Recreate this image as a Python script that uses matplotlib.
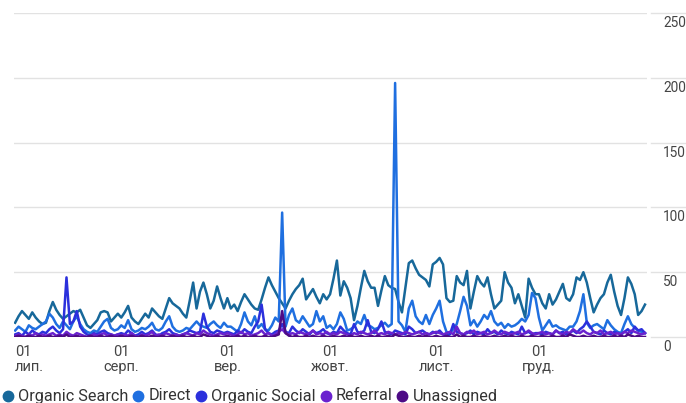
import numpy as np
import pandas as pd
import matplotlib
matplotlib.use('Agg')
import matplotlib.pyplot as plt
from matplotlib.transforms import offset_copy

plt.rcParams['font.family'] = ['Roboto', 'DejaVu Sans']

# daily sessions, 1 Jul .. 1 Jan
dates = pd.date_range('2023-07-01', periods=185, freq='D')

organic_search = [
    11, 16, 20, 17, 14, 19, 15, 12, 10, 11, 20, 27, 21, 17, 14, 16, 18, 20, 19, 21, 15, 9, 7, 10, 13, 19, 20, 19, 12, 15, 18,
    15, 19, 24, 15, 12, 10, 14, 18, 15, 22, 19, 16, 14, 22, 30, 26, 24, 22, 18, 15, 28, 42, 22, 35, 42, 33, 22, 28, 39, 30, 22,
    30, 22, 25, 20, 27, 33, 29, 25, 22, 21, 29, 38, 46, 40, 35, 30, 26, 22, 28, 33, 37, 40, 45, 29, 33, 37, 31, 26, 33, 29,
    33, 45, 59, 32, 43, 38, 30, 13, 24, 38, 51, 43, 38, 38, 24, 36, 47, 40, 38, 37, 27, 19, 38, 57, 59, 53, 48, 46, 44, 39, 56,
    58, 61, 56, 30, 27, 28, 47, 42, 40, 51, 22, 35, 47, 42, 39, 46, 33, 22, 25, 28, 50, 42, 38, 26, 33, 24, 15, 45, 38, 33,
    33, 26, 22, 33, 25, 29, 35, 41, 30, 28, 33, 46, 44, 50, 42, 30, 19, 25, 30, 33, 42, 48, 35, 24, 17, 30, 46, 41, 33, 17, 20, 25,
]
direct = [
    5, 8, 6, 4, 9, 7, 6, 8, 10, 12, 18, 15, 10, 7, 12, 9, 6, 12, 16, 10, 6, 4, 3, 5, 4, 8, 12, 14, 7, 5, 6,
    9, 7, 13, 6, 4, 5, 7, 6, 8, 11, 6, 5, 7, 12, 16, 8, 5, 4, 5, 7, 6, 9, 12, 9, 8, 7, 10, 12, 9, 7, 11,
    8, 8, 6, 4, 10, 19, 12, 9, 16, 7, 10, 6, 5, 9, 15, 12, 96, 8, 17, 22, 13, 11, 16, 12, 8, 10, 20, 12, 16, 7,
    9, 6, 10, 19, 14, 5, 6, 8, 12, 10, 17, 9, 8, 6, 7, 9, 11, 8, 10, 196, 12, 9, 4, 22, 28, 16, 12, 10, 17, 10, 17,
    22, 28, 12, 4, 3, 6, 10, 20, 31, 24, 9, 13, 8, 12, 17, 14, 20, 12, 9, 11, 7, 10, 8, 9, 11, 14, 12, 17, 34, 30,
    15, 5, 9, 13, 8, 9, 7, 6, 5, 8, 8, 12, 20, 33, 11, 7, 9, 10, 8, 6, 13, 9, 6, 4, 3, 10, 16, 10, 7, 5, 4, 3,
]
organic_social = [
    2, 3, 1, 4, 2, 5, 3, 2, 4, 3, 6, 8, 5, 3, 6, 46, 10, 12, 20, 8, 4, 2, 1, 3, 2, 4, 5, 3, 2, 1, 2,
    3, 2, 5, 3, 1, 2, 4, 2, 3, 5, 2, 1, 3, 4, 6, 3, 2, 1, 2, 3, 5, 4, 3, 4, 18, 8, 4, 3, 5, 4, 3,
    4, 3, 2, 5, 3, 6, 4, 3, 8, 12, 25, 6, 3, 2, 4, 5, 10, 4, 3, 8, 5, 3, 6, 4, 2, 5, 3, 4, 6, 3,
    2, 4, 3, 8, 5, 3, 2, 10, 4, 3, 5, 13, 4, 3, 6, 12, 4, 3, 2, 5, 4, 3, 2, 8, 6, 3, 4, 5, 3, 2, 4,
    3, 5, 2, 1, 2, 10, 4, 3, 2, 3, 5, 2, 4, 3, 2, 6, 3, 4, 2, 5, 3, 2, 4, 3, 2, 8, 3, 4, 2, 3,
    3, 2, 4, 3, 2, 5, 3, 4, 2, 3, 5, 3, 6, 8, 12, 8, 4, 3, 2, 5, 3, 2, 4, 3, 2, 4, 6, 3, 8, 5, 6, 3,
]
referral = [
    1, 2, 1, 0, 2, 1, 3, 1, 2, 1, 2, 3, 1, 2, 1, 4, 2, 1, 3, 2, 1, 0, 1, 2, 1, 2, 3, 1, 2, 1, 2,
    1, 2, 1, 3, 1, 0, 2, 1, 2, 4, 1, 2, 1, 3, 2, 1, 2, 1, 2, 3, 2, 1, 3, 2, 5, 3, 2, 1, 2, 3, 2,
    3, 2, 1, 2, 4, 2, 3, 1, 2, 3, 5, 2, 3, 1, 2, 4, 6, 3, 2, 3, 2, 4, 3, 2, 3, 5, 2, 3, 2, 4,
    2, 3, 2, 4, 3, 2, 1, 3, 2, 4, 3, 2, 3, 5, 2, 3, 2, 4, 3, 2, 3, 2, 4, 3, 2, 3, 4, 2, 3, 2, 3,
    4, 3, 2, 3, 4, 2, 8, 3, 2, 4, 3, 5, 2, 3, 4, 2, 3, 5, 3, 2, 4, 3, 2, 3, 4, 2, 3, 5, 3, 2,
    3, 4, 2, 3, 2, 5, 3, 2, 4, 3, 6, 4, 3, 5, 3, 2, 4, 3, 5, 2, 3, 4, 2, 3, 2, 4, 3, 5, 4, 3, 2, 3,
]
unassigned = [
    0, 1, 0, 0, 1, 0, 0, 1, 0, 0, 1, 0, 0, 1, 0, 2, 0, 0, 1, 0, 0, 0, 1, 0, 0, 1, 0, 0, 1, 0, 0,
    1, 0, 0, 1, 0, 0, 1, 0, 0, 1, 0, 0, 1, 0, 0, 1, 0, 0, 1, 0, 0, 1, 0, 0, 2, 1, 0, 0, 1, 0, 0,
    1, 0, 0, 1, 0, 1, 0, 0, 1, 0, 0, 1, 0, 0, 1, 2, 20, 3, 1, 0, 1, 0, 0, 1, 0, 1, 0, 0, 1, 0,
    0, 1, 0, 0, 1, 0, 1, 0, 0, 1, 0, 0, 1, 0, 1, 0, 0, 1, 0, 2, 1, 0, 0, 1, 0, 0, 1, 0, 1, 0, 0,
    1, 0, 0, 1, 0, 0, 2, 0, 1, 0, 0, 1, 0, 0, 1, 0, 0, 1, 0, 0, 1, 0, 1, 0, 0, 1, 0, 0, 1, 0,
    0, 1, 0, 0, 1, 0, 0, 1, 0, 2, 1, 0, 0, 1, 0, 0, 1, 0, 0, 1, 0, 0, 1, 0, 1, 0, 2, 1, 0, 1, 0, 0,
]

series = [organic_search, direct, organic_social, referral, unassigned]
names = ['Organic Search', 'Direct', 'Organic Social', 'Referral', 'Unassigned']
colors = ['#17689a', '#1f6fe0', '#2b30dc', '#6a22cf', '#4d0b85']
month_labels = ['лип.', 'серп.', 'вер.', 'жовт.', 'лист.', 'груд.']
y_ticks = [0, 50, 100, 150, 200, 250]

W, H = 686, 403
fig = plt.figure(figsize=(W / 100, H / 100), dpi=100)
ax = fig.add_axes([14 / W, 1 - 337 / H, 633 / W, 324 / H])

for vals, col in zip(series, colors):
    ax.plot(dates, vals, color=col, lw=1.8, solid_joinstyle='round')

ax.set_ylim(0, 250)
ax.set_xlim(dates[0] - pd.Timedelta(hours=8), dates[-1] + pd.Timedelta(hours=14))
for s in ax.spines.values():
    s.set_visible(False)
ax.set_yticks(y_ticks)
ax.set_yticklabels([])
ax.tick_params(length=0)
ax.grid(axis='y', color='#e2e2e2', lw=1)
ax.set_axisbelow(True)

# gridline stubs and labels in the right-hand value column
ytrans = ax.get_yaxis_transform()
lab_trans = offset_copy(ytrans, fig=fig, x=16, y=-3, units='dots')
for v in y_ticks:
    ax.plot([1.007, 1.1], [v, v], transform=ytrans, color='#e2e2e2', lw=1, clip_on=False)
    ax.text(1.0, v, str(v), transform=lab_trans, ha='left', va='top',
            fontsize=9.8, color='#444444', clip_on=False)

month_starts = pd.date_range('2023-07-01', '2023-12-01', freq='MS')
ax.set_xticks(month_starts)
ax.set_xticklabels(['01\n' + m for m in month_labels], fontsize=10.5, color='#444444',
                   linespacing=1.05)
ax.tick_params(axis='x', pad=6)
first = ax.get_xticklabels()[0]
first.set_ha('left')
first.set_multialignment('left')

# legend row
fig.canvas.draw()
renderer = fig.canvas.get_renderer()
x = 8
ly = 1 - 396 / H
for name, col in zip(names, colors):
    fig.lines.append(plt.Line2D([x / W], [ly], marker='o', ms=7.5, color=col,
                                transform=fig.transFigure))
    t = fig.text((x + 10) / W, ly, name, fontsize=11.7, color='#333333', va='center')
    bb = t.get_window_extent(renderer)
    x = bb.x1 + 10

fig.savefig('out.png', dpi=100)
